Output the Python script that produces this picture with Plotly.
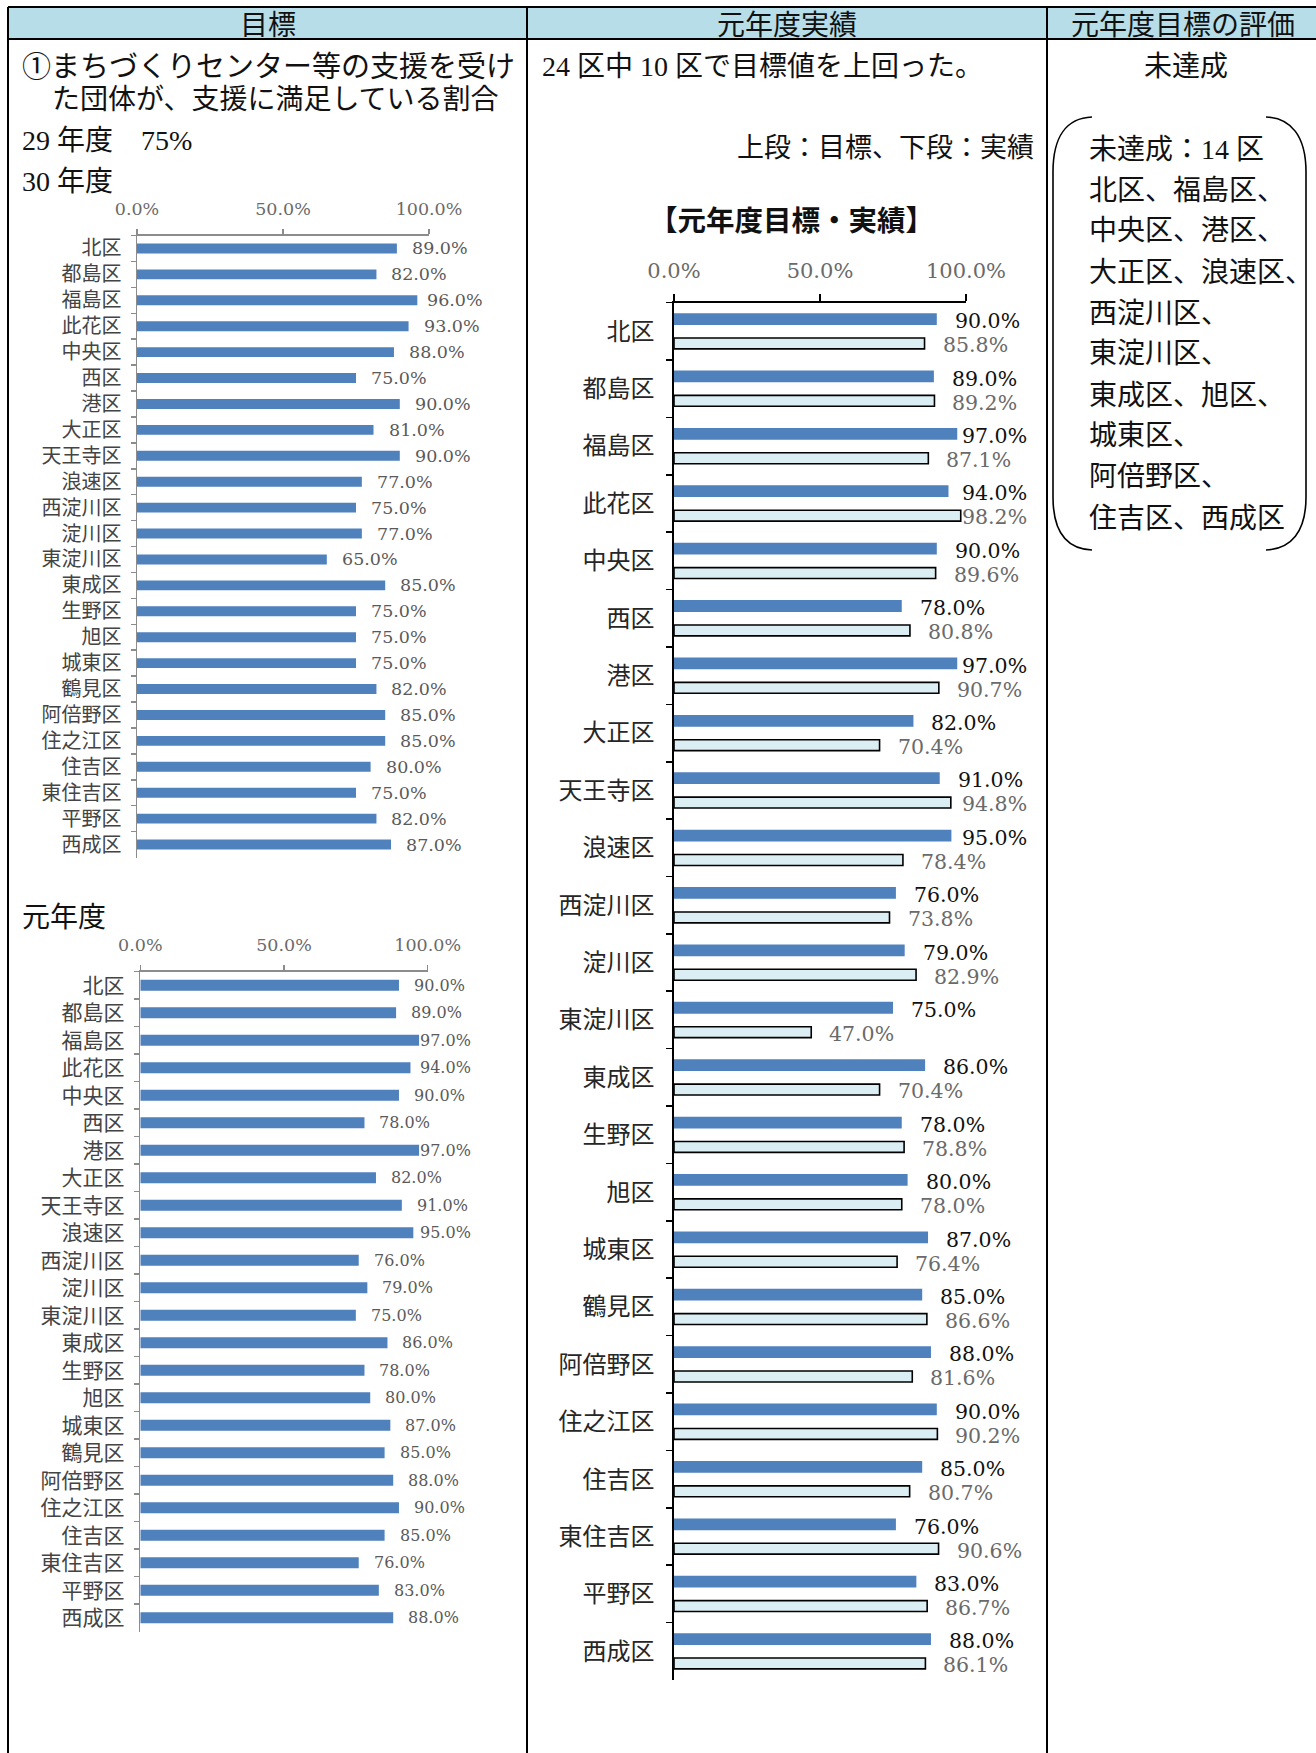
import plotly.graph_objects as go

W, H = 1316, 1753

# ---------------- data ----------------
wards = ["北区", "都島区", "福島区", "此花区", "中央区", "西区", "港区", "大正区",
         "天王寺区", "浪速区", "西淀川区", "淀川区", "東淀川区", "東成区", "生野区",
         "旭区", "城東区", "鶴見区", "阿倍野区", "住之江区", "住吉区", "東住吉区",
         "平野区", "西成区"]
target_h30 = [89, 82, 96, 93, 88, 75, 90, 81, 90, 77, 75, 77, 65, 85, 75, 75,
              75, 82, 85, 85, 80, 75, 82, 87]
target_r1 = [90, 89, 97, 94, 90, 78, 97, 82, 91, 95, 76, 79, 75, 86, 78, 80,
             87, 85, 88, 90, 85, 76, 83, 88]
actual_r1 = [85.8, 89.2, 87.1, 98.2, 89.6, 80.8, 90.7, 70.4, 94.8, 78.4, 73.8,
             82.9, 47.0, 70.4, 78.8, 78.0, 76.4, 86.6, 81.6, 90.2, 80.7, 90.6,
             86.7, 86.1]
tick_vals = [0, 50, 100]
tick_text = [f"{v:.1f}%" for v in tick_vals]

header_texts = ["目標", "元年度実績", "元年度目標の評価"]
col1_lines = ["①まちづくりセンター等の支援を受け", "た団体が、支援に満足している割合",
              "29 年度　75%", "30 年度"]
col1_r1 = "元年度"
col2_summary = "24 区中 10 区で目標値を上回った。"
col2_legend = "上段：目標、下段：実績"
col2_title = "【元年度目標・実績】"
col3_result = "未達成"
col3_lines = ["未達成：14 区", "北区、福島区、", "中央区、港区、", "大正区、浪速区、",
              "西淀川区、", "東淀川区、", "東成区、旭区、", "城東区、", "阿倍野区、",
              "住吉区、西成区"]

# ---------------- helpers ----------------
def px(x):
    return x / W

def py(y):
    return 1 - y / H

BODY = "Liberation Serif, Noto Sans CJK JP"
CJK = "Noto Sans CJK JP"
NUM = "DejaVu Serif"
BLUE = "#4f81bd"
LIGHT = "#daeef3"

fig = go.Figure()

# chart 1 : 30年度
fig.add_trace(go.Bar(x=target_h30, y=wards, orientation="h", width=0.38,
                     marker=dict(color=BLUE, line=dict(width=0)),
                     xaxis="x", yaxis="y", hoverinfo="skip", showlegend=False))
# chart 2 : 元年度
fig.add_trace(go.Bar(x=target_r1, y=wards, orientation="h", width=0.40,
                     marker=dict(color=BLUE, line=dict(width=0)),
                     xaxis="x2", yaxis="y2", hoverinfo="skip", showlegend=False))
# chart 3 : 元年度目標・実績
fig.add_trace(go.Bar(x=target_r1, y=wards, orientation="h", width=0.205, offset=-0.316,
                     marker=dict(color=BLUE, line=dict(width=0)),
                     xaxis="x3", yaxis="y3", hoverinfo="skip", showlegend=False))
fig.add_trace(go.Bar(x=actual_r1, y=wards, orientation="h", width=0.19, offset=0.117,
                     marker=dict(color=LIGHT, line=dict(width=1.6, color="#000000")),
                     xaxis="x3", yaxis="y3", hoverinfo="skip", showlegend=False))

def xax(dom, anchor, color, lw, tl, tfont, standoff):
    return dict(domain=[px(dom[0]), px(dom[1])], range=[0, 100], side="top", anchor=anchor,
                tickmode="array", tickvals=tick_vals, ticktext=tick_text,
                ticks="outside", ticklen=tl, tickwidth=lw, tickcolor=color,
                showline=True, linecolor=color, linewidth=lw,
                showgrid=False, zeroline=False, tickfont=tfont, automargin=False,
                ticklabelstandoff=standoff, fixedrange=True)

def yax(dom, anchor, color, lw, tl, tfont, standoff):
    return dict(domain=[py(dom[1]), py(dom[0])], type="category", range=[23.5, -0.5],
                anchor=anchor, categoryorder="array", categoryarray=wards,
                ticks="outside", tickson="boundaries", ticklen=tl, tickwidth=lw,
                tickcolor=color, showline=True, linecolor=color, linewidth=lw,
                showgrid=False, zeroline=False, tickfont=tfont, automargin=False,
                ticklabelstandoff=standoff, fixedrange=True)

small_tick = dict(family=NUM, size=17.5, color="#6a6a6a")

layout = dict(
    width=W, height=H, margin=dict(l=0, r=0, t=0, b=0, pad=0, autoexpand=False),
    paper_bgcolor="white", plot_bgcolor="rgba(0,0,0,0)",
    barmode="overlay", showlegend=False,
    xaxis=xax((137, 429), "y", "#8c8c8c", 1.5, 5, small_tick, 7),
    yaxis=yax((235.5, 857.5), "x", "#8c8c8c", 1.5, 5,
              dict(family=CJK, size=20, color="#444444"), 10),
    xaxis2=xax((140.3, 427.7), "y2", "#8c8c8c", 1.5, 5, small_tick, 7),
    yaxis2=yax((971.5, 1631.5), "x2", "#8c8c8c", 1.5, 5,
               dict(family=CJK, size=21, color="#444444"), 10),
    xaxis3=xax((674, 966), "y3", "#000000", 1.6, 7,
               dict(family=NUM, size=21, color="#6a6a6a"), 8),
    yaxis3=yax((302.6, 1680), "x3", "#000000", 1.6, 6,
               dict(family=CJK, size=24, color="#262626"), 13),
)
fig.update_layout(**layout)

ann = []
# value labels
for w, v in zip(wards, target_h30):
    ann.append(dict(x=min(v, 94.2), y=w, xref="x", yref="y", xanchor="left", yanchor="middle",
                    xshift=13, text=f"{v:.1f}%", showarrow=False,
                    font=dict(family=NUM, size=17.5, color="#5a5a5a")))
for w, v in zip(wards, target_r1):
    ann.append(dict(x=min(v, 92.2), y=w, xref="x2", yref="y2", xanchor="left", yanchor="middle",
                    xshift=13, text=f"{v:.1f}%", showarrow=False,
                    font=dict(family=NUM, size=16, color="#5a5a5a")))
for w, v in zip(wards, target_r1):
    ann.append(dict(x=min(v, 92.5), y=w, xref="x3", yref="y3", xanchor="left", yanchor="middle",
                    xshift=16, yshift=10, text=f"{v:.1f}%", showarrow=False,
                    font=dict(family=NUM, size=20.5, color="#111111")))
for w, v in zip(wards, actual_r1):
    ann.append(dict(x=min(v, 92.5), y=w, xref="x3", yref="y3", xanchor="left", yanchor="middle",
                    xshift=16, yshift=-14, text=f"{v:.1f}%", showarrow=False,
                    font=dict(family=NUM, size=20.5, color="#6a6a6a")))

def txt(x, y, s, size=28, anchor="left", family=BODY, color="#111111"):
    ann.append(dict(x=px(x), y=py(y), xref="paper", yref="paper", xanchor=anchor,
                    yanchor="middle", text=s, showarrow=False,
                    font=dict(family=family, size=size, color=color)))

# headers
for cx, s in zip([267.5, 787, 1183], header_texts):
    txt(cx, 23, s, size=28, anchor="center", family=CJK)

# column 1
txt(20, 66.5, col1_lines[0], size=29)
txt(50, 99, col1_lines[1], size=28)
txt(20, 141, col1_lines[2], size=28)
txt(20, 181, col1_lines[3], size=28)
txt(20, 918, col1_r1, size=28)

# column 2
txt(540, 66, col2_summary, size=28)
txt(1036, 148, col2_legend, size=27, anchor="right")
txt(791, 218, "<b>" + col2_title + "</b>", size=28.5, anchor="center", family=CJK)

# column 3
txt(1186, 66, col3_result, size=28, anchor="center")
for i, s in enumerate(col3_lines):
    txt(1087, 149 + i * 41, s, size=28)

fig.update_layout(annotations=ann)

# table shapes
shapes = [
    dict(type="rect", xref="paper", yref="paper", x0=px(8), x1=1, y0=py(39), y1=py(7),
         fillcolor="#b6dde8", line=dict(width=0), layer="below"),
]
for (x0, y0, x1, y1) in [(8, 7, W, 7), (8, 39, W, 39), (8, 7, 8, H),
                         (527, 7, 527, H), (1047, 7, 1047, H)]:
    shapes.append(dict(type="line", xref="paper", yref="paper", x0=px(x0), y0=py(y0),
                       x1=px(x1), y1=py(y1), line=dict(color="#000000", width=2)))

def path(pts):
    (ax, ay), rest = pts[0], pts[1:]
    s = f"M {px(ax)},{py(ay)}"
    for seg in rest:
        if seg[0] == "L":
            s += f" L {px(seg[1])},{py(seg[2])}"
        else:
            _, c1x, c1y, c2x, c2y, ex, ey = seg
            s += f" C {px(c1x)},{py(c1y)} {px(c2x)},{py(c2y)} {px(ex)},{py(ey)}"
    return s

left_br = [(1092, 117), ("C", 1067, 118, 1053, 136, 1053, 172), ("L", 1053, 497),
           ("C", 1053, 532, 1067, 549, 1092, 550)]
right_br = [(1266, 117), ("C", 1291, 118, 1306, 136, 1306, 172), ("L", 1306, 497),
            ("C", 1306, 532, 1291, 549, 1266, 550)]
for br in (left_br, right_br):
    shapes.append(dict(type="path", xref="paper", yref="paper", path=path(br),
                       line=dict(color="#000000", width=1.6)))

fig.update_layout(shapes=shapes)

fig.write_html("out.html", include_plotlyjs=True, full_html=True,
               config={"displayModeBar": False, "staticPlot": True},
               post_script="document.body.style.margin='0';document.body.style.overflow='hidden';")
